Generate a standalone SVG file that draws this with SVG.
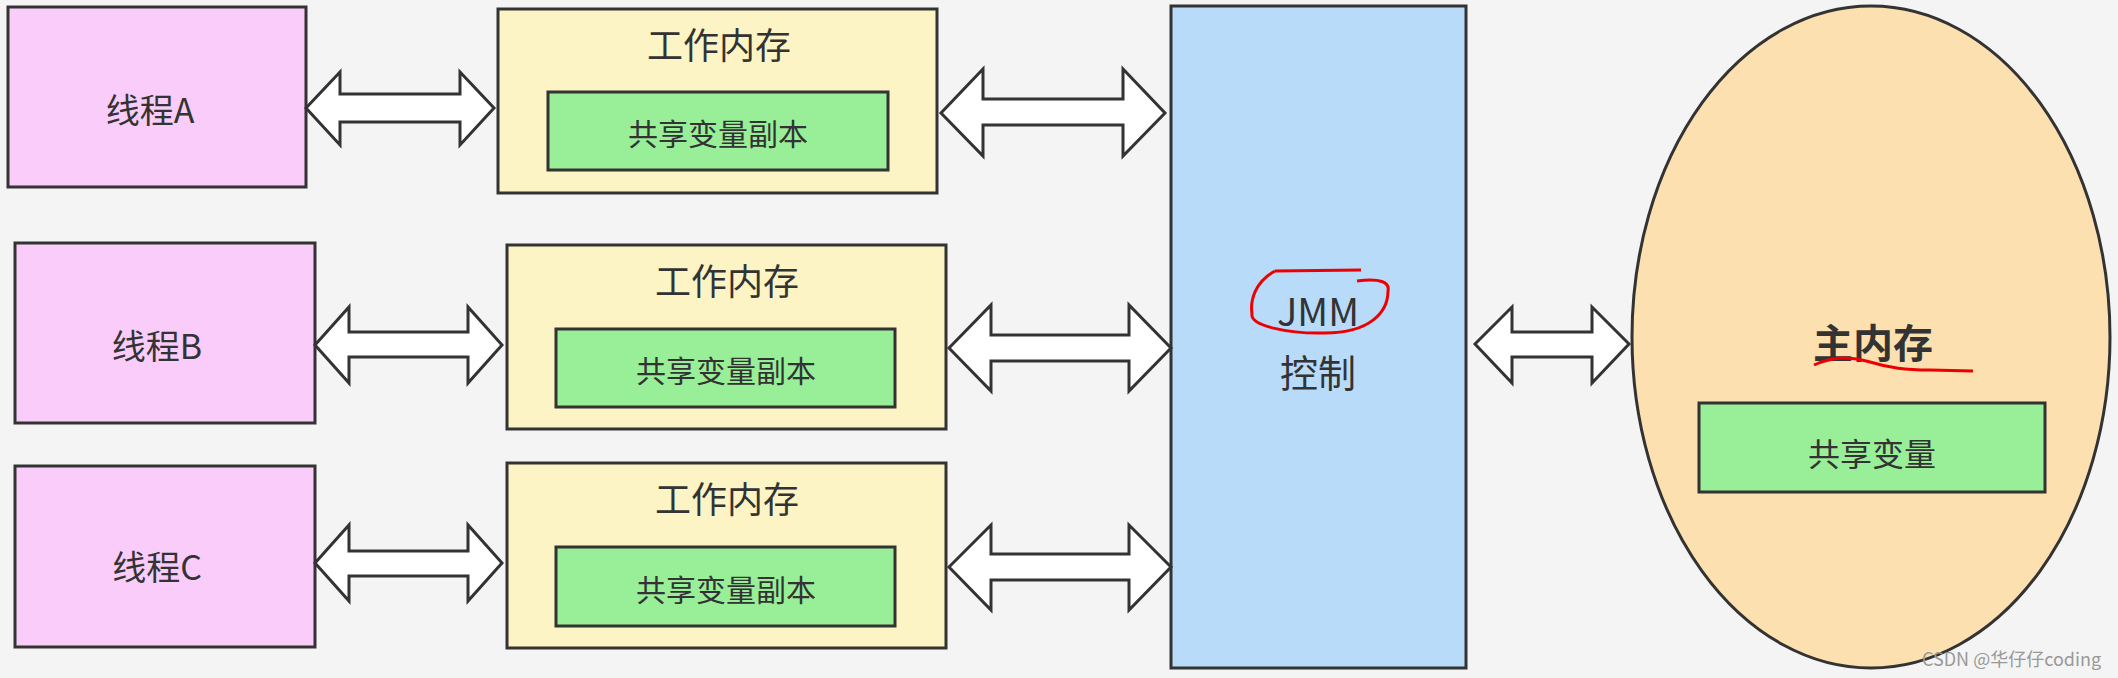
<svg xmlns="http://www.w3.org/2000/svg" width="2118" height="678" viewBox="0 0 2118 678">
<style>
.box{stroke:#333;stroke-width:3}
.th{fill:#f9ccf9}
.wm{fill:#fcf4c4}
.gr{fill:#98ef98}
.t{font-family:"Noto Sans CJK SC","Noto Sans",sans-serif;fill:#333;text-anchor:middle;dominant-baseline:central}
.arr{fill:#fff;stroke:#333;stroke-width:3;stroke-linejoin:miter}
</style>
<rect width="2118" height="678" fill="#f4f4f4"/>
<g id="threadA"><rect class="box th" x="8" y="7" width="298" height="180"/><text class="t" x="150" y="108" font-size="34" fill="#444">线程A</text></g>
<g id="threadB"><rect class="box th" x="15" y="243" width="300" height="180"/><text class="t" x="157" y="344" font-size="34">线程B</text></g>
<g id="threadC"><rect class="box th" x="15" y="466" width="300" height="181"/><text class="t" x="157" y="565" font-size="34">线程C</text></g>
<g id="workA"><rect class="box wm" x="498" y="9" width="439" height="184"/><text class="t" x="719" y="43" font-size="36">工作内存</text><rect class="box gr" x="548" y="92" width="340" height="78"/><text class="t" x="718" y="132" font-size="30">共享变量副本</text></g>
<g id="workB"><rect class="box wm" x="507" y="245" width="439" height="184"/><text class="t" x="727" y="279" font-size="36">工作内存</text><rect class="box gr" x="556" y="329" width="339" height="78"/><text class="t" x="726" y="369" font-size="30">共享变量副本</text></g>
<g id="workC"><rect class="box wm" x="507" y="463" width="439" height="185"/><text class="t" x="727" y="497" font-size="36">工作内存</text><rect class="box gr" x="556" y="547" width="339" height="79"/><text class="t" x="726" y="588" font-size="30">共享变量副本</text></g>
<g id="jmm"><rect class="box" fill="#b8dbfa" x="1171" y="6" width="295" height="662"/><text class="t" x="1318" y="309" font-size="38" fill="#2c3e50">JMM</text><text class="t" x="1318" y="370" font-size="38" fill="#2c3e50">控制</text>
<path d="M1275 271 L1361 270 M1357 281 C1380 278 1390 282 1388 291 C1388 312 1370 333 1325 333 C1290 334 1250 326 1252 314 C1250 300 1255 282 1275 271" fill="none" stroke="#e00" stroke-width="3"/></g>
<g id="main"><ellipse cx="1871" cy="337" rx="239" ry="331" fill="#fde0b0" stroke="#333" stroke-width="3"/><text class="t" x="1873" y="341" font-size="40" font-weight="bold" fill="#222">主内存</text>
<path d="M1814 365 C1830 358 1845 355 1870 362 C1890 368 1905 370 1930 370 L1973 371" fill="none" stroke="#e00" stroke-width="3"/>
<rect class="box gr" x="1699" y="403" width="346" height="89"/><text class="t" x="1872" y="452" font-size="32">共享变量</text></g>
<g id="connectors">
<path class="arr" d="M306 108 L340 72 L340 94 L460 94 L460 72 L494 108 L460 145 L460 122 L340 122 L340 145 Z"/>
<path class="arr" d="M941 113 L983 69 L983 99 L1123 99 L1123 69 L1165 113 L1123 156 L1123 125 L983 125 L983 156 Z"/>
<path class="arr" d="M315 345 L349 307 L349 332 L468 332 L468 307 L502 345 L468 383 L468 357 L349 357 L349 383 Z"/>
<path class="arr" d="M949 348 L991 305 L991 335 L1129 335 L1129 305 L1171 348 L1129 391 L1129 361 L991 361 L991 391 Z"/>
<path class="arr" d="M315 563 L349 525 L349 551 L468 551 L468 525 L502 563 L468 601 L468 576 L349 576 L349 601 Z"/>
<path class="arr" d="M949 567 L991 525 L991 554 L1129 554 L1129 525 L1171 567 L1129 610 L1129 580 L991 580 L991 610 Z"/>
<path class="arr" d="M1475 344 L1512 307 L1512 332 L1592 332 L1592 307 L1629 344 L1592 383 L1592 357 L1512 357 L1512 383 Z"/>
</g>
<text x="1922" y="666" font-family="Noto Sans CJK SC,sans-serif" font-size="18" fill="#999">CSDN @华仔仔coding</text>
</svg>
